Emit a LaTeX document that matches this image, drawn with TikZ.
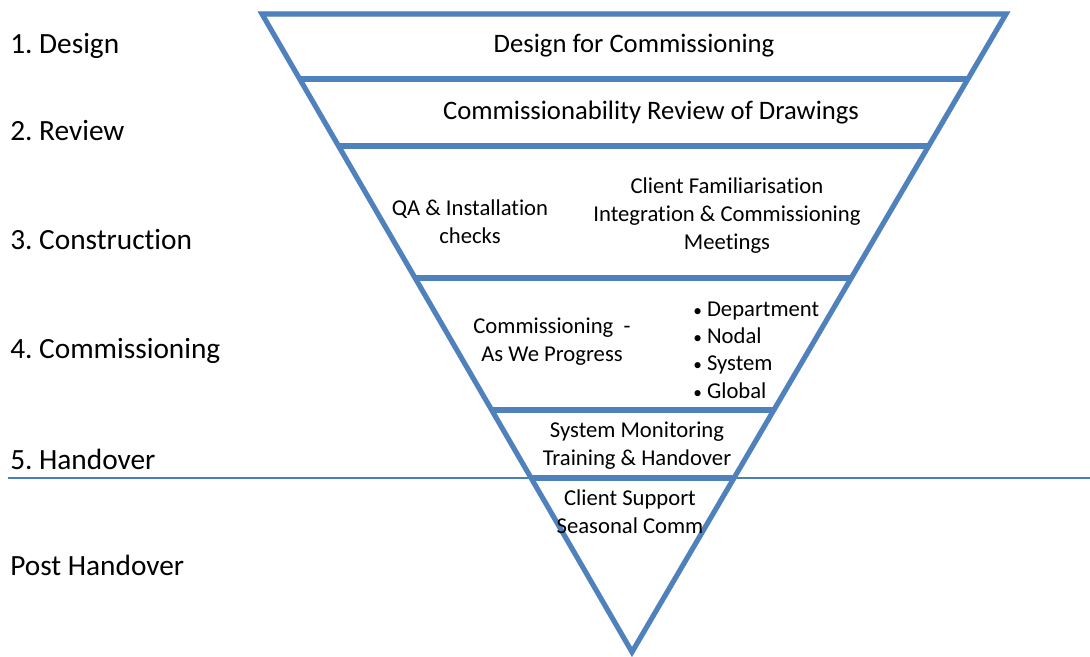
\documentclass[tikz,border=0pt]{standalone}
\usepackage{fontspec}
\setmainfont{Carlito}[Ligatures={NoCommon}]
\usetikzlibrary{calc}
\usetikzlibrary{positioning}

\definecolor{funnelblue}{RGB}{79,129,189}
\definecolor{rulerblue}{RGB}{74,126,187}
\newcommand{\levelbullet}{{\fontsize{13}{13}\selectfont\textbullet}\ }
\frenchspacing

\begin{document}
\begin{tikzpicture}[x=0.75pt, y=-0.75pt,
band/.style={line width=3.8pt, draw=funnelblue, line join=miter},
bandshade/.style={line width=3.8pt, draw=black!30, opacity=0.45},
stage/.style={anchor=west, font=\fontsize{22}{26}\selectfont, inner sep=0pt},
title/.style={font=\fontsize{20}{24}\selectfont, inner sep=0pt},
note/.style={align=center, font=\fontsize{17}{21}\selectfont, inner sep=0pt}]

\useasboundingbox (0,0) rectangle (1090,657);

% corners of the funnel
\coordinate (tl) at (262,14);
\coordinate (tr) at (1006,14);
\coordinate (apex) at (632,652);

% handover rule
\coordinate (ruleL) at (8,478);
\coordinate (ruleR) at (1090,478);
\draw[rulerblue, line width=0.9pt] (ruleL) -- (ruleR);

% band dividers
\foreach \y [count=\i] in {79,146,278,410,478} {
  \coordinate (l\i) at ($(tl)!{(\y-14)/638}!(apex)$);
  \coordinate (r\i) at ($(tr)!{(\y-14)/638}!(apex)$);
}

\begin{scope}[shift={(1.5,2.5)}]
\draw[bandshade] (tl) -- (tr) -- (apex) -- cycle;
\foreach \i in {1,...,5} \draw[bandshade] (l\i) -- (r\i);
\end{scope}
\draw[band] (tl) -- (tr) -- (apex) -- cycle;
\foreach \i in {1,...,5} \draw[band] (l\i) -- (r\i);

% stages on the left
\node[stage] (design) at (10,46) {1. Design};
\node[stage] (review) at (10,131) {2. Review};
\node[stage] (construction) at (10,240) {3. Construction};
\node[stage] (commissioning) at (10,351) {4. Commissioning};
\node[stage] (handover) at (10,459) {5. Handover};
\node[stage] (post) at (10,565) {Post Handover};

% band texts
\node[title] (dfc) at (634,46) {Design for Commissioning};
\node[title] (crd) at (651,113) {Commissionability Review of Drawings};
\node[note] (qa) at (470,222) {QA \& Installation\\checks};
\node[note] (client) at (727,216) {Client Familiarisation\\Integration \& Commissioning\\Meetings};
\node[note] (progress) at (552,342) {Commissioning\ \ -\\As We Progress};
\node[note, align=left, anchor=west, font=\fontsize{17}{20.5}\selectfont] (levels) at (693,350)
  {\levelbullet Department\\\levelbullet Nodal\\\levelbullet System\\\levelbullet Global};
\node[note] (monitoring) at (637,446) {System Monitoring\\Training \& Handover};
\node[note] (support) at (630,512) {Client Support\\Seasonal Comm};
\end{tikzpicture}
\end{document}
